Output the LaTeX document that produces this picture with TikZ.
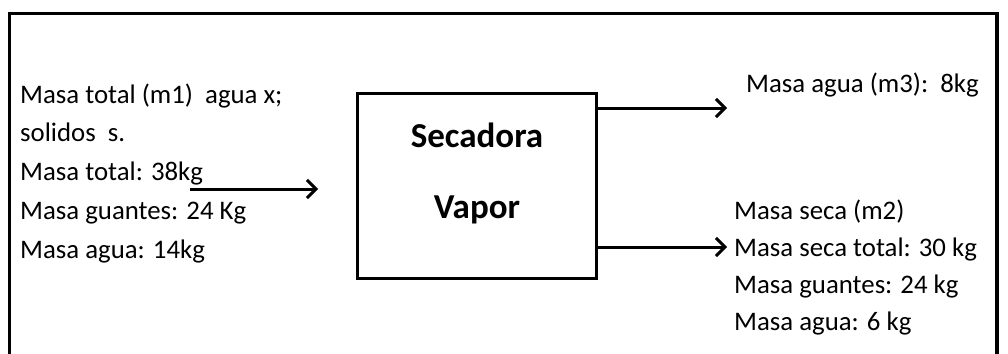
\documentclass[tikz,border=0pt]{standalone}
\usepackage{fontspec}
\setmainfont{Carlito}
\usetikzlibrary{arrows.meta}
\tikzset{
  txt/.style={inner sep=0pt, anchor=base west, font=\fontsize{26.8}{30}\selectfont},
  boxtxt/.style={inner sep=0pt, anchor=base, font=\fontsize{35}{40}\selectfont\bfseries},
  arr/.style={line width=3pt, -{Straight Barb[length=9pt,width=18pt,line width=3pt]}},
  frame/.style={line width=3.5pt}
}
\begin{document}
\begin{tikzpicture}[x=1pt,y=-1pt]
\useasboundingbox (0,0) rectangle (1008,353);
\draw[frame] (9.5,360) -- (9.5,13.5) -- (997,13.5) -- (997,360);
% dryer
\node[draw, line width=3pt, minimum width=239pt, minimum height=185pt, inner sep=0pt] (box) at (477,186) {};
\node[boxtxt] (sec) at (477,147) {Secadora};
\node[boxtxt] (vap) at (477,218) {Vapor};
% input text
\node[txt] (l1) at (20,103) {Masa total (m1)\ \ agua x;};
\node[txt] (l2) at (20,141) {solidos\ \ s.};
\node[txt] (l3) at (20,180) {Masa total: 38kg};
\node[txt] (l4) at (20,219) {Masa guantes: 24 Kg};
\node[txt] (l5) at (20,258) {Masa agua: 14kg};
% output text
\node[txt] (r0) at (746,92) {Masa agua (m3):\ \ 8kg};
\node[txt] (r1) at (734,219) {Masa seca (m2)};
\node[txt] (r2) at (734,256) {Masa seca total: 30 kg};
\node[txt] (r3) at (734,293) {Masa guantes: 24 kg};
\node[txt] (r4) at (734,330) {Masa agua: 6 kg};
% arrows
\coordinate (s1) at (190,189);
\coordinate (e1) at (318,189);
\coordinate (t1) at (727,108);
\coordinate (t2) at (727,247);
\draw[arr] (s1) -- (e1);
\draw[arr] (box.east |- t1) -- (t1);
\draw[arr] (box.east |- t2) -- (t2);
\end{tikzpicture}
\end{document}
